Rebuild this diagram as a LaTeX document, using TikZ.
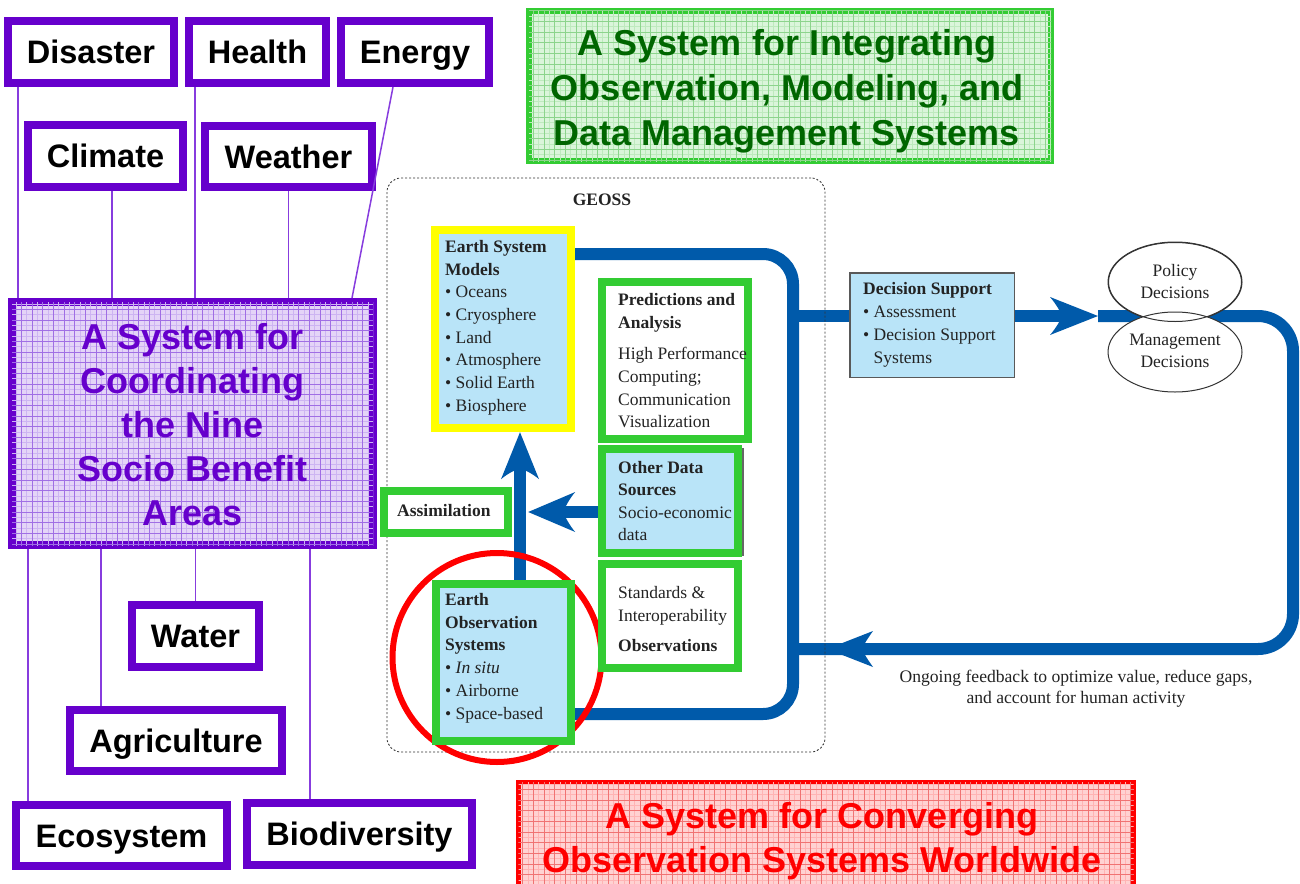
\documentclass[tikz,border=0pt]{standalone}
\usepackage{fontspec}
\setmainfont{Liberation Serif}
\newfontfamily\arialf{Liberation Sans}
\usetikzlibrary{shapes.geometric}

\definecolor{purp}{RGB}{102,0,204}
\definecolor{purpline}{RGB}{135,60,222}
\definecolor{purpfill}{RGB}{228,212,247}
\definecolor{purpgridA}{RGB}{205,180,242}
\definecolor{purpgridB}{RGB}{160,110,228}
\definecolor{grn}{RGB}{51,204,51}
\definecolor{dgrn}{RGB}{0,102,0}
\definecolor{grnfill}{RGB}{218,245,218}
\definecolor{grngridA}{RGB}{190,234,190}
\definecolor{grngridB}{RGB}{140,212,140}
\definecolor{rd}{RGB}{255,0,0}
\definecolor{rdfill}{RGB}{255,210,210}
\definecolor{rdgridA}{RGB}{255,180,180}
\definecolor{rdgridB}{RGB}{240,115,115}
\definecolor{flowblue}{RGB}{0,90,170}
\definecolor{lblue}{RGB}{185,228,248}
\definecolor{yel}{RGB}{255,255,0}
\definecolor{txt}{RGB}{35,35,35}

\newcommand{\boxgrid}[4]{%
  \begin{scope}
    \clip ([shift={(#2,#2)}]#1.north west) rectangle ([shift={(-#2,-#2)}]#1.south east);
    \draw[#3, line width=0.45pt, step=5.333pt] (#1.north west) grid (#1.south east);
    \draw[#4, line width=0.7pt, step=10.667pt] (#1.north west) grid (#1.south east);
  \end{scope}}

\tikzset{
  sba/.style={draw=purp, line width=8pt, fill=white, inner sep=0pt,
    text height=23.3pt, text depth=0pt,
    font=\arialf\bfseries\fontsize{32.5}{36}\selectfont},
  conn/.style={draw=purpline, line width=1.5pt},
  gbox/.style={draw=grn, line width=8pt, inner sep=0pt},
  flow/.style={draw=flowblue, line width=12pt},
  head/.style={fill=flowblue},
  txtblk/.style={anchor=north west, inner sep=0pt, align=left, text=txt,
    font=\fontsize{17.5}{22.7}\selectfont},
  bigtitle/.style={inner sep=0pt, align=center,
    font=\arialf\bfseries\fontsize{36}{45}\selectfont},
}

\begin{document}
\begin{tikzpicture}[x=1pt,y=-1pt]
\useasboundingbox (0,0) rectangle (1300,883);
\fill[white] (0,0) rectangle (1300,883);

% ---------- left: socio benefit areas ----------
\node[sba, minimum width=166pt, minimum height=62pt] (dis) at (91,52) {Disaster};
\node[sba, minimum width=137pt, minimum height=62pt] (hea) at (257.5,52) {Health};
\node[sba, minimum width=148pt, minimum height=62pt] (ene) at (415,52) {Energy};
\node[sba, minimum width=155pt, minimum height=62pt] (cli) at (105.5,156) {Climate};
\node[sba, minimum width=167pt, minimum height=61pt] (wea) at (288.5,156.5) {Weather};
\node[draw=purp, fill=purpfill, line width=8pt, inner sep=0pt,
      minimum width=361pt, minimum height=243pt] (main) at (192.5,423.5) {};
\node[sba, minimum width=127pt, minimum height=62pt] (wat) at (195.5,636) {Water};
\node[sba, minimum width=212pt, minimum height=61pt] (agr) at (176,740.5) {Agriculture};
\node[sba, minimum width=211pt, minimum height=61pt] (eco) at (121.5,835.5) {Ecosystem};
\node[sba, minimum width=225pt, minimum height=62pt] (bio) at (359.5,834) {Biodiversity};

\draw[conn] ([shift={(14,0)}]dis.south west) -- ([shift={(14,0)}]dis.south west |- main.north);
\draw[conn] ([shift={(6.5,0)}]cli.south) -- ([shift={(6.5,0)}]cli.south |- main.north);
\draw[conn] ([shift={(10,0)}]hea.south west) -- ([shift={(10,0)}]hea.south west |- main.north);
\draw[conn] (wea.south) -- (wea.south |- main.north);
\draw[conn] ([shift={(56,0)}]ene.south west) -- ([shift={(-25,0)}]main.north east);
\draw[conn] ([shift={(16,0)}]eco.north west |- main.south) -- ([shift={(16,0)}]eco.north west);
\draw[conn] ([shift={(35,0)}]agr.north west |- main.south) -- ([shift={(35,0)}]agr.north west);
\draw[conn] (wat.north |- main.south) -- (wat.north);
\draw[conn] ([shift={(67,0)}]bio.north west |- main.south) -- ([shift={(67,0)}]bio.north west);

\boxgrid{main}{4}{purpgridA}{purpgridB}
\node[bigtitle, text=purp, font=\arialf\bfseries\fontsize{36}{44}\selectfont]
  (maintxt) at ([shift={(0,1.5)}]main.center)
  {A System for\\Coordinating\\the Nine\\Socio Benefit\\Areas};

% ---------- green title ----------
\node[draw=grn, fill=grnfill, line width=6pt, inner sep=0pt,
      minimum width=522pt, minimum height=150pt] (gtitle) at (790,86) {};
\boxgrid{gtitle}{3}{grngridA}{grngridB}
\node[bigtitle, text=dgrn] (gtxt) at ([shift={(-3,4.8)}]gtitle.center)
  {A System for Integrating\\Observation, Modeling, and\\Data Management Systems};

% ---------- flows ----------
\coordinate (jtop) at (793,254);
\coordinate (jmid) at (793,316);
\coordinate (jfb)  at (793,649);
\coordinate (jbot) at (793,714);
\coordinate (ptip) at (1098,316);
\coordinate (fbtip) at (827,649);

% geometry helpers (outer edges of the boxes drawn later)
\path (503,329) node[minimum width=144pt, minimum height=206pt, inner sep=0pt] (esmg) {};
\path (503.5,662.5) node[minimum width=143pt, minimum height=165pt, inner sep=0pt] (eosg) {};
\path (932,325) node[minimum width=166pt, minimum height=106pt, inner sep=0pt] (dsg) {};
\path (446,512) node[minimum width=132pt, minimum height=50pt, inner sep=0pt] (asmg) {};
\path (670,501) node[minimum width=144pt, minimum height=112pt, inner sep=0pt] (odsg) {};

\draw[flow, rounded corners=30pt] (esmg.east |- jtop) -- (jtop) -- (jbot) -- (eosg.east |- jbot);
\draw[flow] (jmid) -- (dsg.west |- jmid);
\draw[flow] (dsg.east |- jmid) -- ([shift={(-34,0)}]ptip);
\fill[head] (ptip) -- ++(-48,-19)
   .. controls ++(6,7) and ++(-2,-5) .. ++(12,19)
   .. controls ++(-2,5) and ++(6,-7) .. ++(-12,19) -- cycle;
\draw[flow, rounded corners=35pt] (ptip) -- (1293,316) -- (1293,649) -- (jfb);
\fill[head] (fbtip) -- ++(46,-18)
   .. controls ++(-5,7) and ++(2,-5) .. ++(-11,18)
   .. controls ++(2,5) and ++(-5,-7) .. ++(11,18) -- cycle;
% up arrow
\draw[flow] ([shift={(16.5,0)}]eosg.north) -- ([shift={(17,36)}]esmg.south);
\fill[head] ([shift={(17,0)}]esmg.south) -- ++(-19,47)
   .. controls ++(7,-6) and ++(-5,2) .. ++(19,-11)
   .. controls ++(5,2) and ++(-7,-6) .. ++(19,11) -- cycle;
% left arrow
\draw[flow] (odsg.west |- asmg.east) -- ([shift={(50,0)}]asmg.east);
\fill[head] ([shift={(16,0)}]asmg.east) -- ++(47,-20)
   .. controls ++(-6,7) and ++(2,-5) .. ++(-12,20)
   .. controls ++(2,5) and ++(-6,-7) .. ++(12,20) -- cycle;

% ---------- GEOSS container ----------
\node[draw=black!80, dash pattern=on 2pt off 2pt, line width=0.9pt,
      rounded corners=14pt, inner sep=0pt, minimum width=438pt, minimum height=574pt]
      (geoss) at (606,465) {};
\node[anchor=base, inner sep=0pt, text=txt, font=\bfseries\fontsize{17.5}{20}\selectfont]
      (geosslbl) at (602,205) {GEOSS};

% red ring
\node[draw=rd, line width=6pt, circle, minimum size=209pt, inner sep=0pt] (ring) at (497,657.5) {};

% ---------- GEOSS boxes ----------
\node[draw=yel, fill=lblue, line width=8pt, inner sep=0pt,
      minimum width=136pt, minimum height=198pt] (esm) at (503,329) {};
\node[txtblk] (esmt) at (445,240)
  {\textbf{Earth System}\\\textbf{Models}\\• Oceans\\• Cryosphere\\• Land\\• Atmosphere\\• Solid Earth\\• Biosphere};

\node[gbox, fill=white, minimum width=146pt, minimum height=157pt] (pa) at (675,360.5) {};
\begin{scope}
  \clip ([shift={(4,4)}]pa.north west) rectangle ([shift={(-4,-4)}]pa.south east);
  \node[txtblk] (pat) at (618,293)
    {\textbf{Predictions and}\\\textbf{Analysis}\\[9pt]High Performance\\Computing;\\Communication\\Visualization};
\end{scope}

\node[gbox, fill=lblue, minimum width=136pt, minimum height=104pt] (ods) at (670,501) {};
\draw[black!60, line width=1.2pt] ([shift={(1,3)}]ods.north east) -- ([shift={(1,-1)}]ods.south east);
\node[txtblk, font=\fontsize{17.5}{22.5}\selectfont] (odst) at (618,461)
  {\textbf{Other Data}\\\textbf{Sources}\\Socio-economic\\data};

\node[gbox, fill=white, minimum width=136pt, minimum height=104pt] (sio) at (670,616) {};
\node[txtblk, font=\fontsize{17.5}{23.5}\selectfont] (siot) at (618,586)
  {Standards \&\\Interoperability\\[6.5pt]\textbf{Observations}};

\node[gbox, fill=white, minimum width=124pt, minimum height=42pt] (asm) at (446,512) {};
\node[txtblk] (asmt) at (397,504) {\textbf{Assimilation}};

\node[gbox, fill=lblue, minimum width=135pt, minimum height=157pt] (eos) at (503.5,662.5) {};
\node[txtblk, font=\fontsize{17.5}{22.8}\selectfont] (eost) at (445,593)
  {\textbf{Earth}\\\textbf{Observation}\\\textbf{Systems}\\• \textit{In situ}\\• Airborne\\• Space-based};

% ---------- decision side ----------
\node[draw=black!65, fill=lblue, line width=1.5pt, inner sep=0pt,
      minimum width=164.5pt, minimum height=104.5pt] (ds) at (932,325) {};
\node[txtblk, font=\fontsize{17.5}{23}\selectfont] (dst) at (863,282)
  {\textbf{Decision Support}\\• Assessment\\• Decision Support\\\phantom{• }Systems};

\node[ellipse, draw=black!80, fill=white, line width=1pt, inner sep=0pt,
      minimum width=134pt, minimum height=80pt] (pol) at (1175,282) {};
\node[ellipse, draw=black!80, fill=white, line width=1pt, inner sep=0pt,
      minimum width=134pt, minimum height=80pt] (man) at (1175,352) {};
\draw[black!80, line width=1pt] (pol.center) ellipse [x radius=66.5pt, y radius=39.5pt];
\node[inner sep=0pt, align=center, text=txt, font=\fontsize{17.5}{21.5}\selectfont]
  (polt) at (1175,281.5) {Policy\\Decisions};
\node[inner sep=0pt, align=center, text=txt, font=\fontsize{17.5}{22.5}\selectfont]
  (mant) at (1175,351) {Management\\Decisions};

\node[anchor=north, inner sep=0pt, align=center, text=txt, font=\fontsize{17.6}{21}\selectfont]
  (fbt) at (1076,670)
  {Ongoing feedback to optimize value, reduce gaps,\\and account for human activity};

% ---------- red title ----------
\node[draw=rd, fill=rdfill, line width=5pt, inner sep=0pt,
      minimum width=615pt, minimum height=117pt] (rtitle) at (826,841) {};
\boxgrid{rtitle}{2.5}{rdgridA}{rdgridB}
\node[bigtitle, text=rd, font=\arialf\bfseries\fontsize{36}{44}\selectfont]
  (rtxt) at (822,841)
  {A System for Converging\\Observation Systems Worldwide};
\end{tikzpicture}
\end{document}
